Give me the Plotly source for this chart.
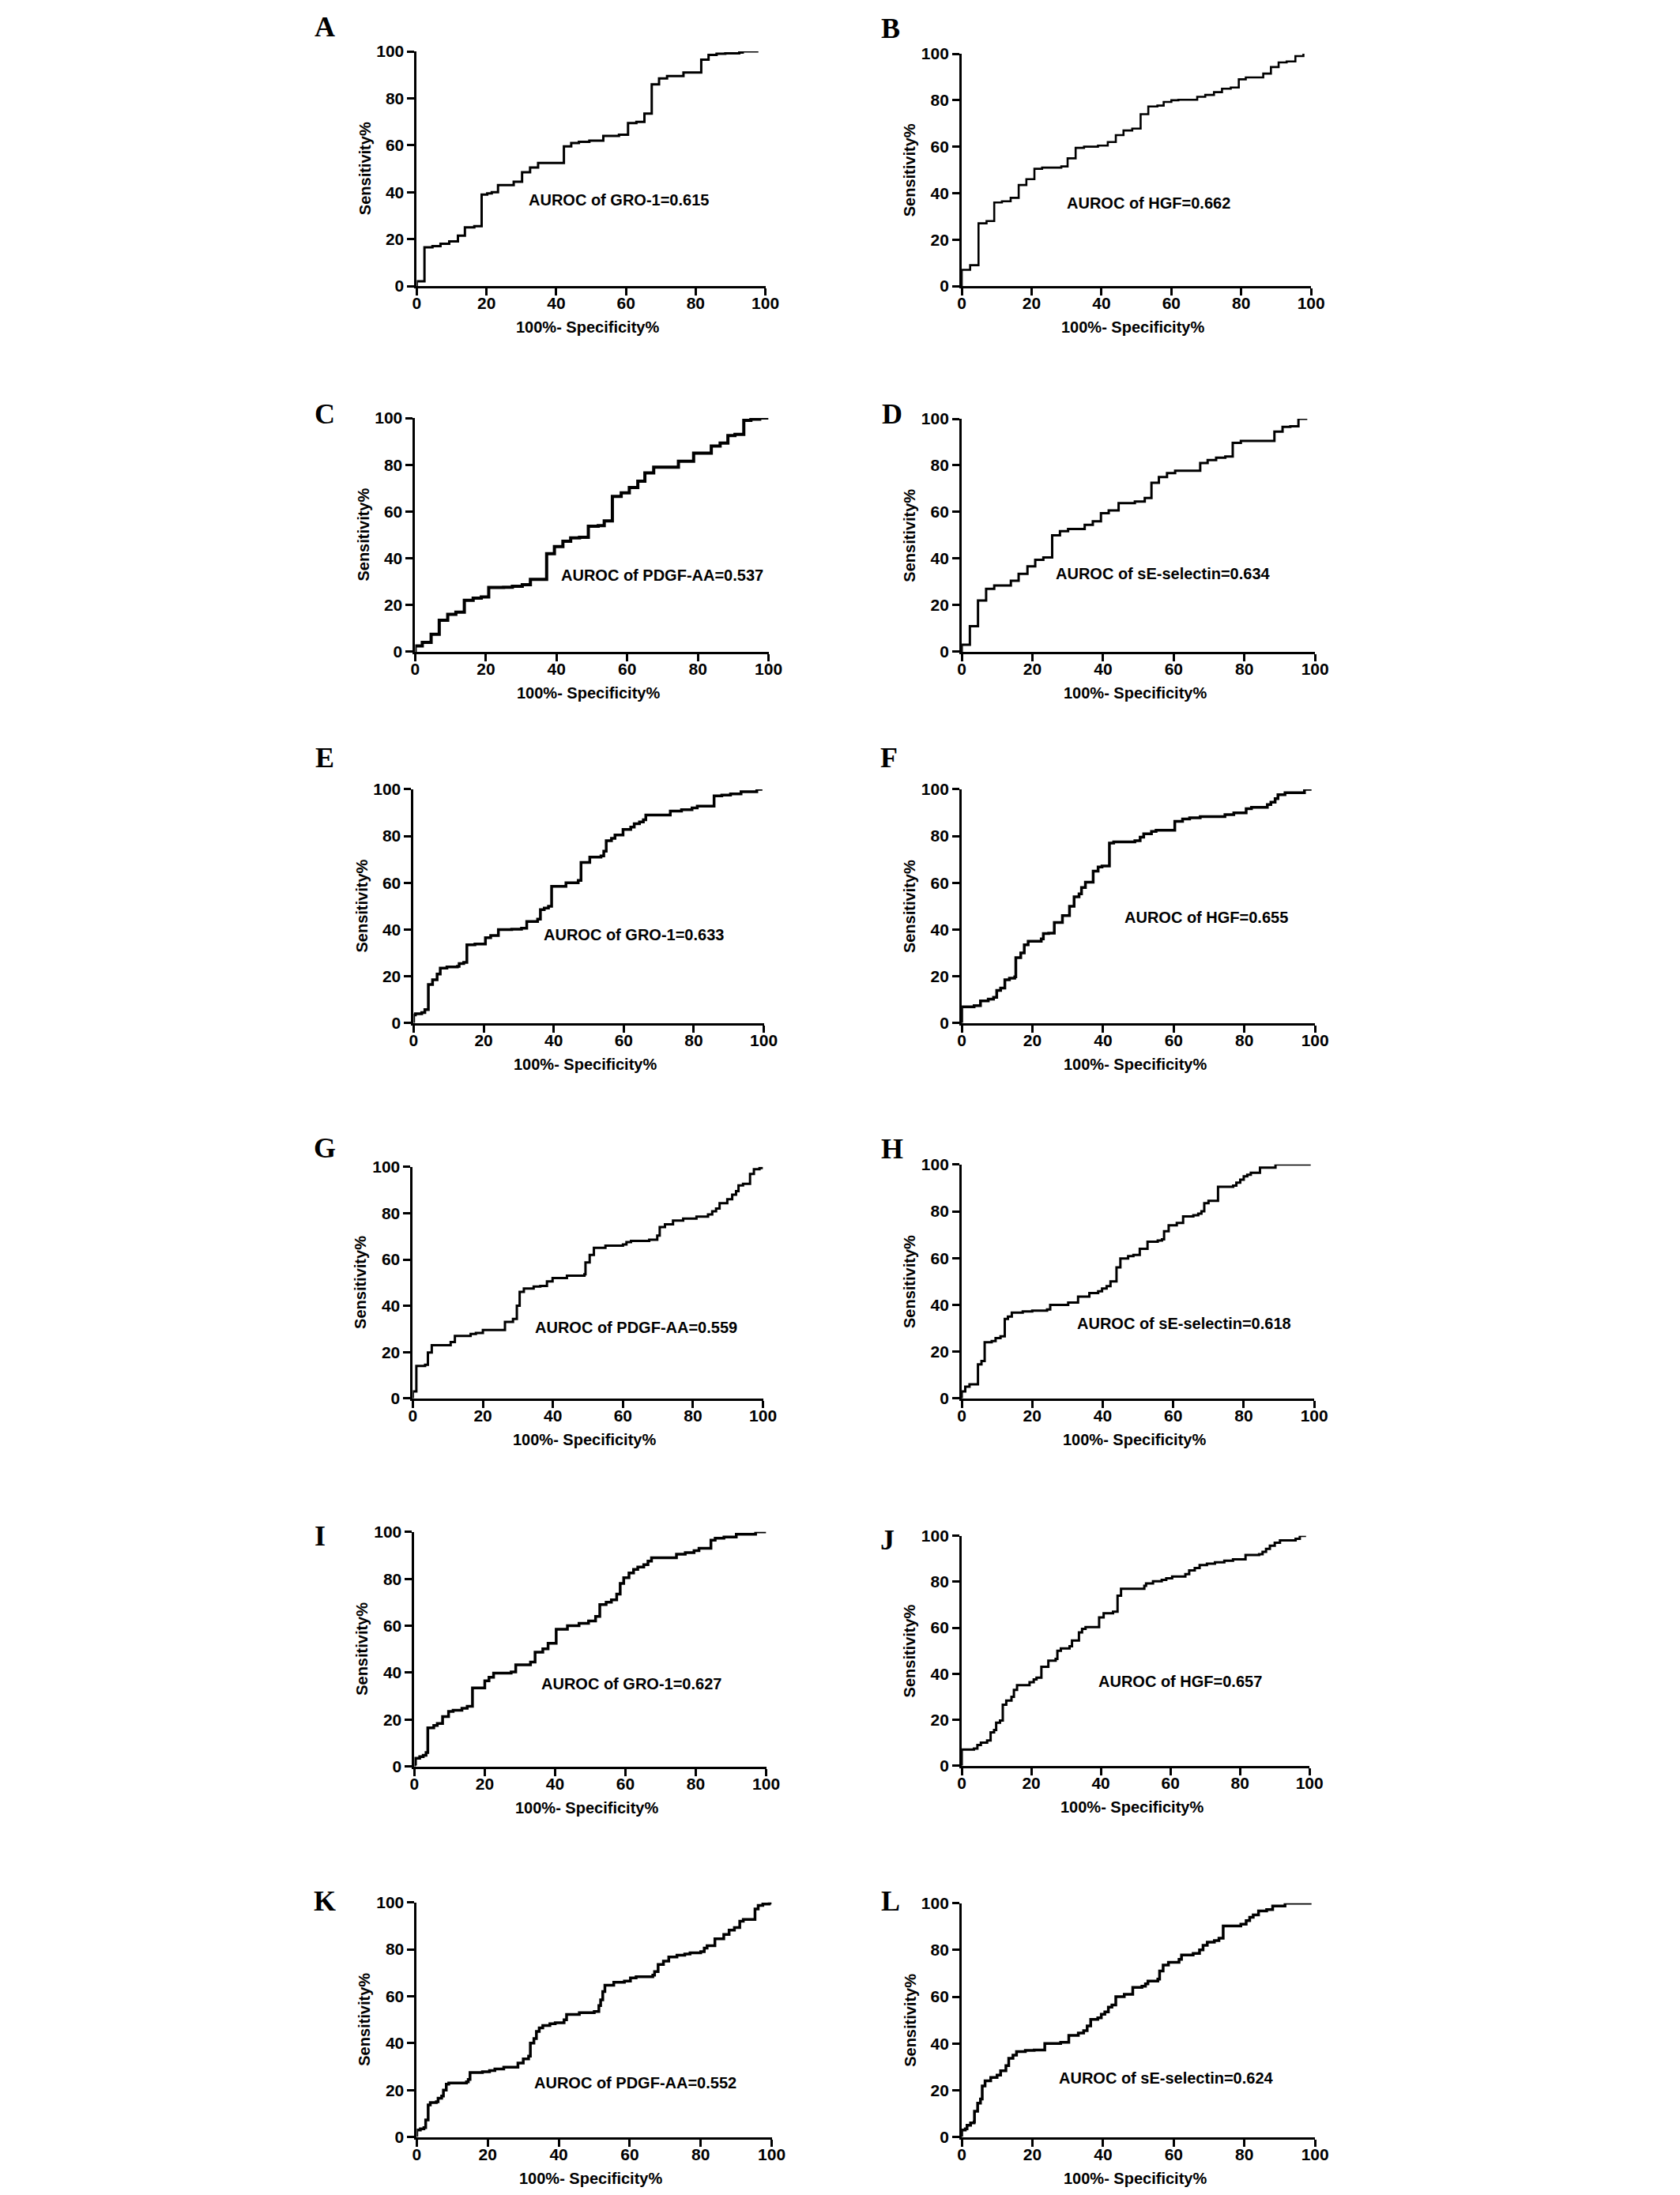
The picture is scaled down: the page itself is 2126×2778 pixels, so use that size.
import plotly.graph_objects as go

W, H = 2126, 2778

# step points of each ROC curve: 100%-specificity (x) and sensitivity (y)
A_FPR = [0, 0, 2.2, 4.5, 6.8, 9.3, 11.8, 13.8, 16.5, 18.6, 20.2, 21.5, 23.3, 27.8, 30.2, 32.5, 34.8, 42.2, 44.3,
         46.5, 49.5, 53.5, 58.0, 60.6, 63.0, 65.3, 67.4, 69.5, 71.8, 76.5, 81.6, 83.7, 86.0, 88.5, 92.5, 93.5, 98.0]
A_TPR = [0, 2, 16.5, 17, 18, 19, 21.5, 25, 25.5, 39, 39.5, 40, 43, 44.5, 48.5, 50.5, 52.5, 59.5, 61,
         61.5, 62, 64, 64.5, 69.5, 70, 73.5, 86, 88.5, 89.5, 91, 96.5, 98.5, 99, 99.2, 99.5, 100, 100]

B_FPR = [0, 0, 2.4, 4.8, 7.1, 9.3, 11.5, 14.0, 16.3, 18.5, 20.8, 23.0, 28.5, 30.3, 32.6, 35.0, 39.0, 41.8, 44.1,
         46.3, 48.8, 51.2, 53.4, 56.0, 57.8, 60.0, 62.0, 67.4, 69.7, 72.2, 74.5, 77.0, 79.3, 81.3, 86.3, 88.5,
         90.7, 93.0, 95.5, 97.8]
B_TPR = [0, 7, 9, 27, 28, 36, 36.5, 38, 43.5, 46, 50.5, 51, 51.5, 55, 59.5, 60, 60.5, 62, 65,
         67, 67.8, 74, 77.3, 77.7, 79.3, 80, 80.2, 81.5, 82.3, 83.5, 85, 85.5, 89, 89.8, 91.5, 94.3,
         96.3, 96.7, 99, 100]

C_FPR = [0, 0, 2.0, 4.5, 6.8, 9.2, 11.5, 13.9, 16.4, 18.7, 20.8, 25.0, 27.5, 30.3, 32.6, 37.2, 39.4, 41.8, 44.0,
         46.5, 49.0, 51.8, 53.5, 55.8, 58.3, 60.6, 63.0, 65.0, 67.5, 74.5, 78.8, 83.8, 86.3, 88.5, 90.5, 93.0,
         95.0, 97.5, 100]
C_TPR = [0, 2.5, 4, 7.5, 13.5, 16, 17, 22, 23, 23.5, 27.5, 27.6, 28, 28.7, 31, 42, 45, 47.3, 48.7,
         49, 53.7, 54, 56, 66.5, 68, 70.3, 73, 76.5, 79, 81.5, 85, 88, 89.3, 92.5, 93, 99,
         99.5, 100, 100]

D_FPR = [0, 0, 2.3, 4.6, 6.9, 9.2, 13.9, 16.1, 18.6, 20.8, 23.1, 25.6, 27.8, 30.1, 34.8, 37.1, 39.4, 41.6,
         44.4, 49.0, 51.8, 53.7, 55.8, 58.1, 60.4, 67.5, 69.6, 72.0, 74.6, 76.7, 79.0, 88.5, 90.8, 93.0,
         95.3, 97.8]
D_TPR = [0, 3, 11, 22, 27, 28.5, 30.5, 33.5, 36.7, 39.5, 40.5, 50, 51.8, 52.7, 54.5, 56, 59.5, 60.7,
         63.8, 64.5, 66, 72.5, 75, 76.7, 77.7, 81, 82.3, 83.3, 83.8, 89.7, 90.5, 94.5, 96.5, 96.8,
         100, 100]

E_FPR = [0, 0, 0.5, 2.3, 3.2, 4.2, 5.4, 6.7, 7.6, 9.5, 12.5, 13.0, 14.3, 15.2, 17.5, 20.5, 22.0, 24.2, 28.0,
         30.8, 32.3, 35.4, 36.2, 37.3, 38.5, 39.4, 43.5, 47.0, 47.8, 50.3, 53.5, 54.3, 55.0, 56.5, 57.5,
         59.8, 62.0, 63.0, 64.5, 65.6, 66.3, 73.3, 76.5, 79.5, 81.0, 85.8, 88.0, 90.5, 93.5, 98.0, 99.6]
E_TPR = [0, 3.5, 4, 4.5, 5.8, 16.5, 18.5, 21, 23.5, 24, 24.3, 25.5, 26, 33.5, 33.8, 36.5, 37.5, 40, 40.2,
         40.6, 43.5, 44.5, 48.5, 49.2, 50, 58.5, 60, 61, 68.7, 71, 71.5, 73.5, 78, 79, 80.5,
         82.8, 83.8, 85.3, 86, 87, 89, 90.7, 91.3, 92, 92.8, 97.2, 97.5, 98, 99, 100, 100]

F_FPR = [0, 0, 3.5, 5.3, 7.5, 9.0, 9.9, 11.0, 12.2, 13.5, 15.0, 15.3, 16.7, 17.7, 18.8, 22.5, 23.1, 24.6,
         26.2, 28.5, 30.5, 31.8, 33.2, 33.9, 35.0, 37.2, 38.6, 39.7, 41.8, 43.0, 49.0, 50.5, 51.5, 53.7,
         55.0, 60.3, 62.5, 64.5, 67.5, 74.5, 77.0, 80.5, 82.0, 86.5, 87.5, 88.7, 89.5, 91.5, 97.0, 99.0]
F_TPR = [0, 7, 7.5, 9.5, 10.3, 11, 14, 15, 18.5, 19.2, 19.8, 28, 30, 33.5, 35, 36, 38.3, 38.5,
         43, 46, 50, 54, 55.3, 58, 60.3, 65, 66.8, 67.2, 77, 77.5, 78, 79.5, 81, 82,
         82.5, 86.3, 87.3, 87.8, 88.3, 89.2, 89.9, 91.7, 92.3, 93.5, 94.5, 96, 97.7, 98.5, 100, 100]

G_FPR = [0, 0, 1.0, 3.5, 4.3, 5.4, 10.8, 12.0, 16.5, 18.0, 20.0, 26.3, 28.6, 29.7, 30.5, 31.7, 34.5, 36.4,
         38.3, 39.9, 44.0, 49.0, 49.3, 50.5, 51.7, 55.0, 60.0, 61.0, 62.3, 67.5, 69.8, 70.5, 72.0, 74.3,
         77.2, 81.0, 84.3, 85.5, 86.6, 87.6, 89.8, 91.2, 92.3, 93.0, 94.3, 96.3, 97.4, 99.0, 100]
G_TPR = [0, 3, 14, 14.5, 19.8, 23, 24.3, 27, 27.8, 28.3, 29.5, 33, 34.3, 40, 46, 47.5, 48.3, 48.6,
         50.5, 52, 53, 53.6, 58.7, 62, 65, 66, 66.5, 67.5, 68, 68.5, 70.3, 74, 75.2, 76.8,
         77.7, 78.5, 79.5, 80.8, 82, 84.3, 86, 88, 89.5, 92, 92.7, 97, 99, 99.5, 99.5]

H_FPR = [0, 0, 1.0, 2.2, 4.6, 5.6, 6.5, 8.5, 9.6, 11.0, 12.2, 13.1, 14.2, 17.3, 20.0, 24.2, 25.1, 30.2,
         33.0, 36.2, 38.7, 39.8, 41.1, 42.2, 43.9, 45.0, 47.2, 48.7, 50.5, 52.7, 55.6, 56.8, 57.4, 58.7,
         61.0, 62.8, 65.7, 67.1, 68.0, 68.8, 70.0, 72.7, 77.0, 77.9, 79.0, 80.0, 81.0, 82.0, 84.6, 89.0, 99.0]
H_TPR = [0, 3, 5, 6, 14.5, 16, 24, 24.5, 25.8, 26.5, 34, 35, 36.7, 37.2, 37.5, 38, 40, 41,
         43.5, 45, 45.8, 47, 48, 50, 56, 59.8, 60.8, 61.3, 64, 67, 67.5, 68, 71.5, 74,
         75, 77.8, 78.3, 79, 80, 83.5, 84.5, 90.5, 91, 92.3, 93.5, 95, 95.6, 96.5, 98.7, 100, 100]

I_FPR = [0, 0, 0.3, 1.5, 2.5, 3.3, 3.8, 5.5, 6.5, 8.0, 9.7, 11.0, 13.5, 15.0, 16.5, 20.0, 21.2, 22.5, 27.5,
         28.8, 33.0, 34.3, 36.5, 38.0, 40.3, 43.5, 46.8, 49.5, 51.5, 52.7, 54.5, 56.0, 57.5, 58.5, 59.5,
         61.0, 62.3, 63.5, 65.2, 66.4, 67.4, 74.5, 77.0, 79.5, 80.9, 84.3, 85.5, 88.0, 91.5, 97.0, 100]
I_TPR = [0, 1, 3.5, 4.2, 4.8, 6, 16.5, 17.5, 18.3, 21.3, 23.5, 24, 24.8, 25.7, 33.5, 36.5, 38, 39.8, 40.3,
         43.3, 44.5, 48.7, 50.2, 52.5, 58.5, 60, 61, 62, 64, 69, 70, 71, 73.5, 78, 80.5,
         82.5, 84, 85, 86, 87.5, 89, 90.5, 91.2, 92, 93, 96.5, 97.3, 97.8, 99, 100, 100]

J_FPR = [0, 0, 3.5, 4.5, 5.5, 7.3, 8.3, 9.3, 9.9, 11.0, 11.8, 12.8, 14.3, 15.0, 15.9, 19.5, 20.7, 21.5,
         22.9, 24.9, 27.0, 27.5, 28.5, 31.0, 31.7, 33.7, 34.6, 35.6, 39.5, 40.8, 43.5, 44.8, 45.8, 52.5,
         53.0, 55.0, 57.5, 58.8, 60.5, 64.3, 65.4, 67.0, 68.4, 70.5, 72.8, 75.5, 78.0, 81.6, 85.5, 86.5,
         87.5, 88.6, 90.0, 91.5, 96.0, 97.2, 99.0]
J_TPR = [0, 7, 7.5, 9, 10, 11, 14.5, 15.5, 18.7, 19.7, 26.5, 28.3, 30, 33, 35, 36.3, 37.5, 38.3,
         43, 45.7, 46.5, 50, 51, 52, 54.5, 58, 59.5, 60.3, 64.5, 66.3, 67, 74, 77, 78.3,
         79.3, 80.2, 80.8, 81.5, 82.3, 83.3, 85, 86, 87.3, 87.9, 88.5, 89.2, 89.8, 91.7, 92, 93,
         94.3, 95.7, 97, 98, 98.7, 100, 100]

K_FPR = [0, 0, 1.0, 2.0, 2.5, 3.2, 3.8, 5.5, 6.0, 7.0, 7.5, 8.3, 9.0, 14.0, 14.5, 15.0, 18.5, 20.5, 22.0,
         24.5, 28.5, 30.0, 31.5, 32.0, 33.0, 33.7, 34.5, 35.5, 37.5, 39.0, 41.5, 42.2, 45.8, 50.0, 51.3,
         51.8, 52.4, 53.0, 55.5, 58.5, 60.2, 61.8, 66.5, 67.0, 68.0, 69.5, 71.0, 73.3, 75.5, 77.0, 80.0,
         81.0, 81.8, 84.0, 86.5, 88.0, 89.5, 91.0, 92.0, 95.3, 96.2, 97.5, 99.3, 100]
K_TPR = [0, 3, 3.5, 4, 7.3, 13.7, 14.7, 15, 16.5, 17.5, 20, 22.5, 23, 23.5, 24.5, 27.5, 27.8, 28.3, 29,
         29.8, 31.5, 33.3, 34.5, 40, 42, 45, 46.5, 47.5, 48.3, 48.7, 50, 52.2, 53, 53.5, 56,
         58.5, 62, 64.7, 66, 66.5, 67.8, 68.3, 69, 70.5, 73.5, 75, 76.7, 77.5, 78, 78.5, 79,
         80.5, 81.5, 84.5, 86.3, 88.2, 89.3, 92, 92.7, 97.2, 98.7, 99.3, 99.7, 99.7]

L_FPR = [0, 0, 1.0, 1.5, 2.5, 3.5, 3.6, 4.5, 5.3, 5.8, 6.6, 8.2, 10.0, 11.0, 12.5, 13.3, 14.5, 15.5, 18.0,
         20.5, 23.5, 28.0, 30.3, 33.0, 34.5, 35.5, 36.5, 38.5, 39.5, 40.5, 41.5, 42.5, 43.6, 46.0, 48.4,
         51.0, 52.0, 52.7, 55.5, 56.0, 57.0, 58.5, 61.5, 62.2, 65.5, 67.3, 68.3, 69.5, 71.5, 72.8, 74.0,
         79.0, 80.5, 81.5, 82.5, 84.0, 86.3, 88.0, 91.5, 99.0]
L_TPR = [0, 3, 3.5, 5, 6, 6.5, 11, 14.5, 16.3, 21.8, 24, 25.5, 26.5, 28.3, 30.5, 33.7, 35, 36.5, 37,
         37.2, 40, 40.5, 43.5, 44.5, 45.5, 47.5, 50.3, 51, 52.5, 53.5, 55.5, 56.5, 60, 61, 64,
         64.5, 65.5, 66.7, 67.5, 71, 73.5, 74.7, 76, 77.8, 78.5, 80, 82, 83.3, 84, 85, 90.3,
         91, 92.5, 94, 95, 96.7, 97.3, 98.8, 100, 100]

PANEL_LETTERS = ['A', 'B', 'C', 'D', 'E', 'F', 'G', 'H', 'I', 'J', 'K', 'L']
AUROC_TEXT = ['AUROC of GRO-1=0.615', 'AUROC of HGF=0.662',
              'AUROC of PDGF-AA=0.537', 'AUROC of sE-selectin=0.634',
              'AUROC of GRO-1=0.633', 'AUROC of HGF=0.655',
              'AUROC of PDGF-AA=0.559', 'AUROC of sE-selectin=0.618',
              'AUROC of GRO-1=0.627', 'AUROC of HGF=0.657',
              'AUROC of PDGF-AA=0.552', 'AUROC of sE-selectin=0.624']
CURVES = [(A_FPR, A_TPR), (B_FPR, B_TPR), (C_FPR, C_TPR), (D_FPR, D_TPR),
          (E_FPR, E_TPR), (F_FPR, F_TPR), (G_FPR, G_TPR), (H_FPR, H_TPR),
          (I_FPR, I_TPR), (J_FPR, J_TPR), (K_FPR, K_TPR), (L_FPR, L_TPR)]

# layout (pixels): plot box x at 0 / 100, y at 100 / 0
boxes = [(525, 967, 64, 361), (1216, 1659, 67, 361),
         (523, 971, 528, 824), (1216, 1664, 529, 824),
         (521, 965, 998, 1294), (1216, 1664, 998, 1294),
         (520, 964, 1476, 1769), (1216, 1663, 1473, 1769),
         (522, 968, 1938, 2235), (1216, 1657, 1943, 2234),
         (525, 975, 2407, 2704), (1216, 1664, 2408, 2704)]
letter_pos = [(408, 33), (1126, 35), (408, 523), (1128, 523), (408, 958), (1124, 958),
              (408, 1452), (1128, 1453), (402, 1943), (1122, 1948), (408, 2405), (1126, 2405)]
label_pos = [(58, 36.8), (53.5, 35.7), (70, 32.9), (57, 33.6), (62.8, 37.8), (69.3, 45.2),
             (63.8, 30.6), (63.1, 32), (61.6, 35.4), (62.7, 36.6), (61.6, 23), (58, 25.2)]
line_w = [3, 2.6, 4, 3, 3.5, 3.5, 3, 3, 3.5, 3, 3.5, 3.5]

# the photographed page comes out about 1% smaller than the figure, so stretch pixel positions to suit
SX, OX = 0.9907, 2.5
SY, OY = 0.9919, 10.9


def px(x):
    return (x - OX) / SX / W


def py(y):
    return 1 - (y - OY) / SY / H


SANS = 'Arial, "Liberation Sans", sans-serif'
SERIF = '"Times New Roman", "Liberation Serif", serif'

fig = go.Figure()
annotations = []
for i in range(12):
    n = '' if i == 0 else str(i + 1)
    x0, x1, yt, yb = boxes[i]
    fig.add_trace(go.Scatter(
        x=CURVES[i][0], y=CURVES[i][1],
        mode='lines', line=dict(color='black', width=line_w[i], shape='hv'),
        xaxis='x' + n, yaxis='y' + n, showlegend=False, hoverinfo='skip',
    ))
    axis_style = dict(
        range=[0, 100], tickvals=[0, 20, 40, 60, 80, 100],
        showgrid=False, zeroline=False, showline=True, linecolor='black', linewidth=3,
        ticks='outside', ticklen=9, tickwidth=3, tickcolor='black',
        tickfont=dict(family=SANS, size=21, color='black', weight='bold'),
        fixedrange=True,
    )
    fig.update_layout(**{
        'xaxis' + n: dict(axis_style, domain=[px(x0), px(x1)], anchor='y' + n, ticklabelstandoff=-8),
        'yaxis' + n: dict(axis_style, domain=[py(yb), py(yt)], anchor='x' + n),
    })
    annotations.append(dict(
        text=AUROC_TEXT[i], x=label_pos[i][0], y=label_pos[i][1],
        xref='x' + n, yref='y' + n, showarrow=False,
        font=dict(family=SANS, size=20, color='black', weight='bold'),
    ))
    annotations.append(dict(
        text=PANEL_LETTERS[i], x=px(letter_pos[i][0]), y=py(letter_pos[i][1]),
        xref='paper', yref='paper', showarrow=False, xanchor='center', yanchor='middle',
        font=dict(family=SERIF, size=36, color='black', weight='bold'),
    ))
    annotations.append(dict(
        text='Sensitivity%', x=px(x0 - 66), y=py((yt + yb) / 2),
        xref='paper', yref='paper', showarrow=False, textangle=-90,
        xanchor='center', yanchor='middle',
        font=dict(family=SANS, size=20, color='black', weight='bold'),
    ))
    annotations.append(dict(
        text='100%- Specificity%', x=px(x0 + 0.49 * (x1 - x0)), y=py(yb + 52),
        xref='paper', yref='paper', showarrow=False,
        xanchor='center', yanchor='middle',
        font=dict(family=SANS, size=20, color='black', weight='bold'),
    ))

fig.update_layout(
    width=W, height=H, autosize=False,
    margin=dict(l=0, r=0, t=0, b=0),
    paper_bgcolor='white', plot_bgcolor='white',
    annotations=annotations,
)

# page body margin would push the fixed-size figure off the window
fig.write_html("out.html", config={'displayModeBar': False},
               post_script="document.body.style.margin = '0';")
